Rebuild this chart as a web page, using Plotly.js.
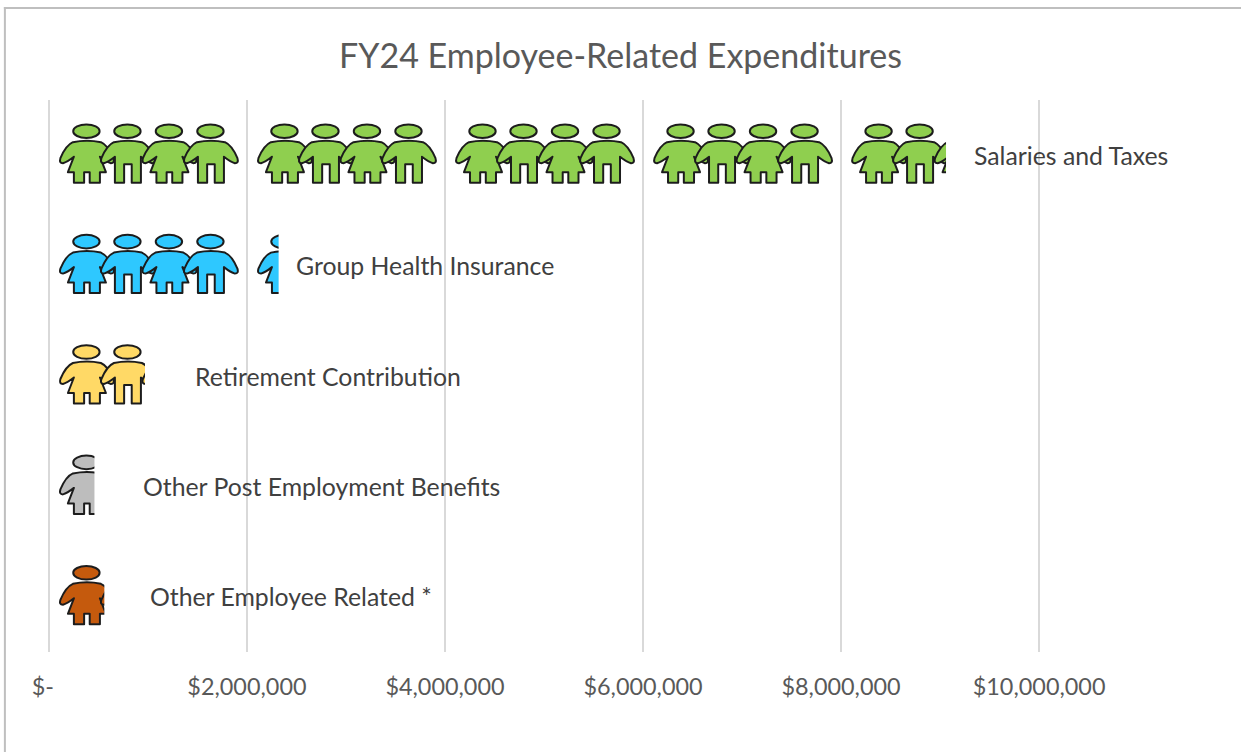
<!DOCTYPE html>
<html>
<head>
<meta charset="utf-8">
<script src="https://cdn.plot.ly/plotly-3.0.1.min.js"></script>
<style>html,body{margin:0;padding:0;background:#fff;overflow:hidden}#chart{width:1241px;height:752px}</style>
</head>
<body>
<div id="chart"></div>
<script>
// ---- data ----
const categories = ["Salaries and Taxes", "Group Health Insurance", "Retirement Contribution", "Other Post Employment Benefits", "Other Employee Related *"];
const values = [9060000, 2320000, 970000, 460000, 560000];
const tickValues = [0, 2000000, 4000000, 6000000, 8000000, 10000000];
const tickLabels = ["$-\u00a0\u00a0", "$2,000,000", "$4,000,000", "$6,000,000", "$8,000,000", "$10,000,000"];

// ---- style / placement ----
const fillColors = ["#8fcf4f", "#2fc8ff", "#ffd966", "#bdbdbd", "#c55a11"];
const labelAnchors = [9330000, 2490000, 1470000, 945000, 1015000];
const W = 1241, H = 752, FONT = "Lato, Carlito, sans-serif";
const UNIT = 2000000;            // one pictogram tile stands for $2M
const TILE_W = 198, TILE_H = 66; // tile artwork size

function upper(P) {
  return "M" + P(-14, 142) + " Q" + P(0, 139) + " " + P(14, 142) +
    " Q" + P(21, 145) + " " + P(26.5, 158) + " Q" + P(28, 163) + " " + P(24, 163) +
    " Q" + P(20, 162) + " " + P(13, 156.5);
}
function lowerArm(P) {
  return " Q" + P(-20, 162) + " " + P(-24, 163) + " Q" + P(-28, 163) + " " + P(-26.5, 158) +
    " Q" + P(-21, 145) + " " + P(-14, 142) + " Z";
}
function girl(cx) {
  const P = (x, y) => (cx + x) + "," + (y - 122);
  return upper(P) + " L" + P(19, 172) + " L" + P(13, 172) +
    " L" + P(13, 182.5) + " L" + P(2.8, 182.5) + " L" + P(2.8, 172) + " L" + P(-2.8, 172) + " L" + P(-2.8, 182.5) +
    " L" + P(-13, 182.5) + " L" + P(-13, 172) + " L" + P(-19, 172) + " L" + P(-13, 156.5) + lowerArm(P);
}
function boy(cx) {
  const P = (x, y) => (cx + x) + "," + (y - 122);
  return upper(P) + " L" + P(13, 182.5) + " L" + P(3.8, 182.5) + " L" + P(3.8, 164) +
    " L" + P(-3.8, 164) + " L" + P(-3.8, 182.5) + " L" + P(-13, 182.5) + " L" + P(-13, 156.5) + lowerArm(P);
}
function tileUri(color, frac) {
  const people = [[38, girl], [79, boy], [120.5, girl], [162, boy]];
  let body = "";
  people.forEach(function (p) {
    body += '<ellipse cx="' + (p[0] - 0.5) + '" cy="9" rx="13.2" ry="6.8"/>' + '<path d="' + p[1](p[0]) + '"/>';
  });
  const w = TILE_W * frac;
  const svg = '<svg xmlns="http://www.w3.org/2000/svg" width="' + w + '" height="' + TILE_H + '" viewBox="0 0 ' + w + ' ' + TILE_H + '">' +
    '<defs><filter id="b" x="-5%" y="-5%" width="110%" height="110%"><feGaussianBlur stdDeviation="0.5"/></filter></defs>' +
    '<g filter="url(#b)" fill="' + color + '" stroke="#1f1f1f" stroke-width="2" stroke-linejoin="round">' + body + '</g></svg>';
  return "data:image/svg+xml;base64," + btoa(svg);
}

// pictogram tiles derived from the values
const bandPx = 552;
const images = [];
values.forEach(function (v, i) {
  for (let k = 0; k * UNIT < v; k++) {
    const span = Math.min(UNIT, v - k * UNIT);
    images.push({
      source: tileUri(fillColors[i], span / UNIT),
      xref: "x", yref: "y", x: k * UNIT, y: i,
      sizex: span, sizey: TILE_H / (bandPx / categories.length),
      xanchor: "left", yanchor: "middle", sizing: "stretch", layer: "above"
    });
  }
});

const annotations = categories.map(function (c, i) {
  return {
    text: c, xref: "x", yref: "y", x: labelAnchors[i], y: i, yshift: 0,
    xanchor: "left", yanchor: "middle", showarrow: false, borderpad: 0,
    font: { family: FONT, size: 24.8, color: "#404040" }
  };
});

const ml = 39.1, mr = W - 1049;
const px2paper = x => (x - ml) / (W - ml - mr);
const py2paper = y => 1 - (y - 100) / 552;
const frame = [
  { type: "line", xref: "paper", yref: "paper", x0: px2paper(5), x1: px2paper(5), y0: py2paper(7), y1: py2paper(760), line: { color: "#bfbfbf", width: 2 } },
  { type: "line", xref: "paper", yref: "paper", x0: px2paper(4), x1: px2paper(1245), y0: py2paper(8), y1: py2paper(8), line: { color: "#bfbfbf", width: 2 } }
];

Plotly.newPlot("chart", [{
  type: "bar", orientation: "h", x: values, y: categories, width: 0.55,
  marker: { color: "rgba(0,0,0,0)", line: { width: 0 } },
  hovertemplate: "%{y}: $%{x:,.0f}<extra></extra>"
}], {
  width: W, height: H,
  paper_bgcolor: "#ffffff", plot_bgcolor: "#ffffff",
  margin: { l: ml, r: mr, t: 100, b: 100, pad: 0 },
  showlegend: false,
  title: {
    text: "FY24 Employee-Related Expenditures",
    x: 620.5 / W, xanchor: "center", xref: "container",
    y: 1 - 56 / H, yanchor: "middle", yref: "container",
    font: { family: FONT, size: 34, color: "#595959" }
  },
  xaxis: {
    range: [-100000, 10100000], tickmode: "array", tickvals: tickValues, ticktext: tickLabels,
    showgrid: true, gridcolor: "#d9d9d9", gridwidth: 2, zeroline: false, showline: false, ticks: "",
    ticklabelstandoff: 19, tickfont: { family: FONT, size: 23.4, color: "#595959" }, fixedrange: true
  },
  yaxis: {
    type: "category", categoryorder: "array", categoryarray: categories,
    range: [4.5, -0.5], showgrid: false, zeroline: false, showline: false, showticklabels: false, ticks: "", fixedrange: true
  },
  images: images,
  annotations: annotations,
  shapes: frame
}, { displayModeBar: false, staticPlot: false });
</script>
</body>
</html>
